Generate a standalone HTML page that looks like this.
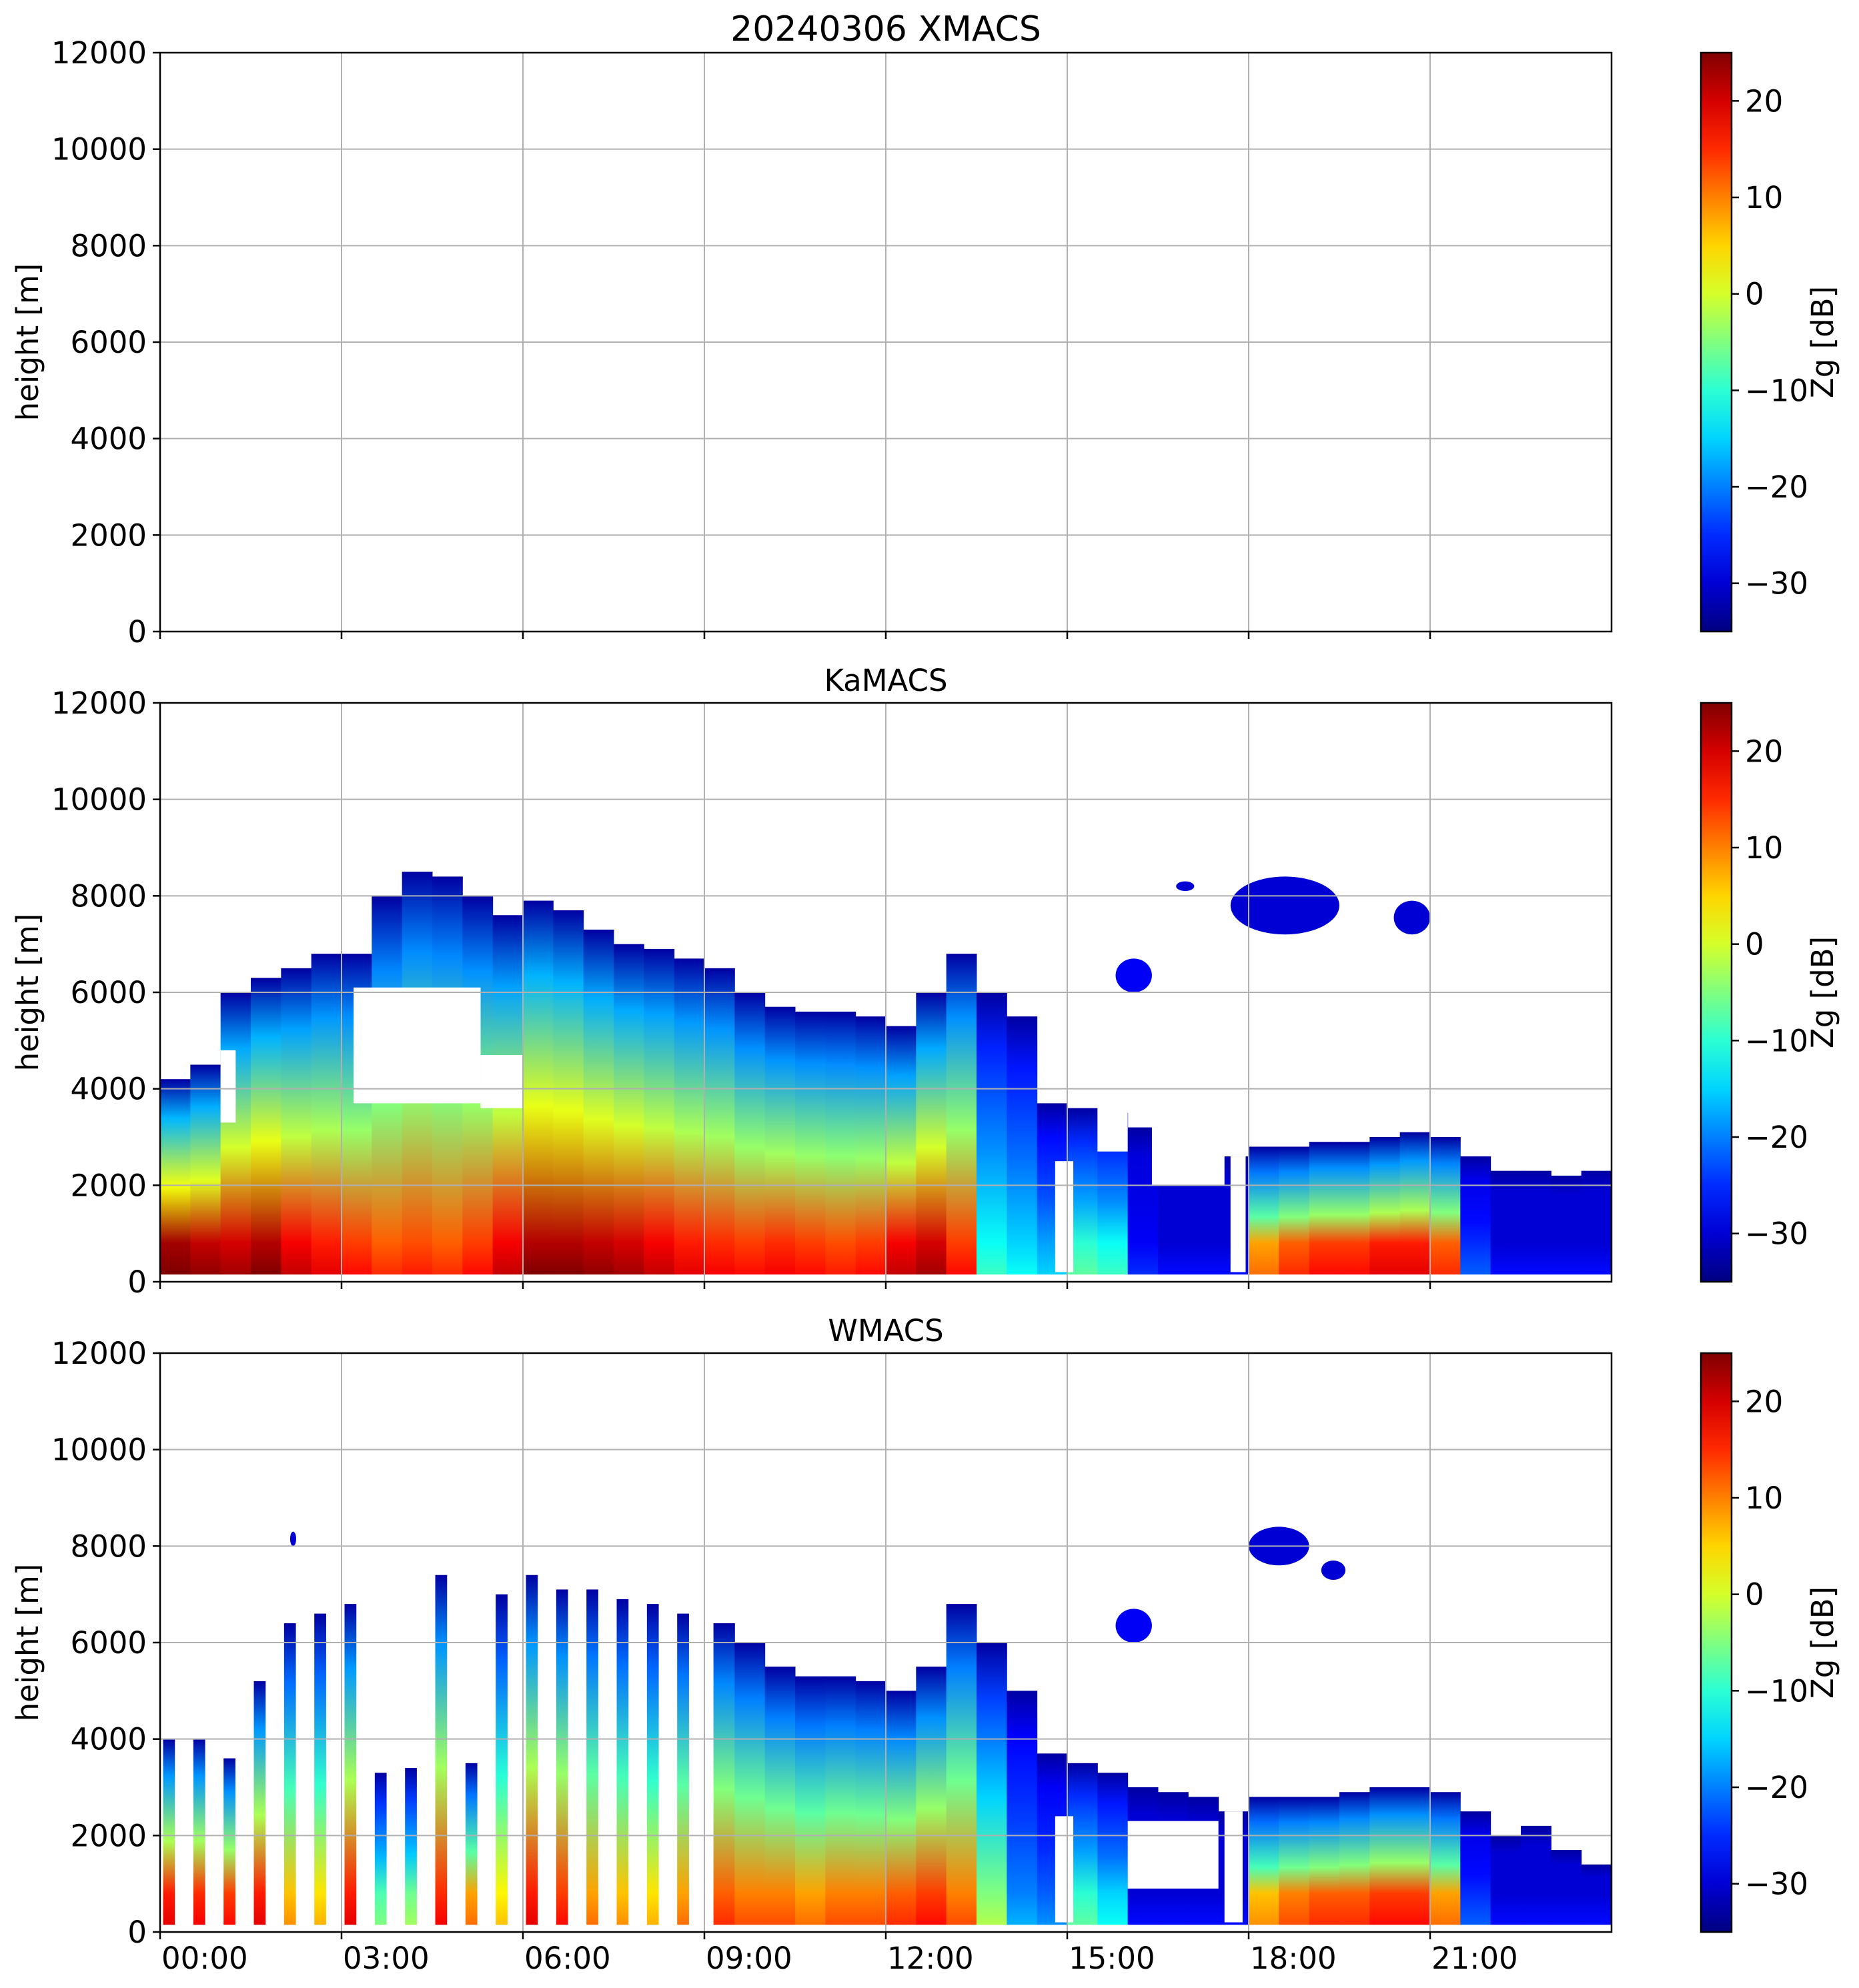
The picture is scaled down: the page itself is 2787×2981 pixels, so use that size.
<!DOCTYPE html>
<html><head><meta charset="utf-8"><title>20240306 radar reflectivity</title>
<style>html,body{margin:0;padding:0;background:#fff}svg{display:block}text{font-family:"DejaVu Sans","Liberation Sans",sans-serif;fill:#000}</style>
</head><body>
<svg id="fig" xmlns="http://www.w3.org/2000/svg" width="2787" height="2981" viewBox="0 0 2787 2981">
<defs id="defs"></defs>
</svg>
<script>
// ---- data ----
const panelTitles = ["20240306 XMACS", "KaMACS", "WMACS"];
const yTicks = [0, 2000, 4000, 6000, 8000, 10000, 12000];
const xTickHours = [0, 3, 6, 9, 12, 15, 18, 21];
const xTickLabels = ["00:00", "03:00", "06:00", "09:00", "12:00", "15:00", "18:00", "21:00"];
const cbarTicks = [-30, -20, -10, 0, 10, 20];

// KaMACS columns (start hour, cloud top m, near-surface dB)
const kaStart = [0,0.5,1,1.5,2,2.5,3,3.5,4,4.5,5,5.5,6,6.5,7,7.5,8,8.5,9,9.5,10,10.5,11,11.5,12,12.5,13,13.5,14,14.5,15,15.5,16,16.5,17,17.5,18,18.5,19,19.5,20,20.5,21,21.5,22,22.5,23,23.5];
const kaTop = [4200,4500,6000,6300,6500,6800,6800,8000,8500,8400,8000,7600,7900,7700,7300,7000,6900,6700,6500,6000,5700,5600,5600,5500,5300,6000,6800,6000,5500,3700,3600,3500,3200,3000,3000,2600,2800,2800,2900,2900,3000,3100,3000,2600,2300,2300,2200,2300];
const kaSfc = [23,21,20,22,18,16,14,12,13,12,14,18,22,22,21,20,18,16,15,14,15,14,13,14,18,20,14,-12,-15,-18,-10,-12,-28,-30,-30,-30,8,12,14,14,16,16,12,-25,-30,-30,-30,-30];
const kaHoles = [[1.0,1.25,3300,4800],[3.2,5.3,3700,6100],[5.3,6.0,3600,4700],[14.8,15.1,200,2500],[15.5,16.0,2700,3600],[16.4,17.6,2000,3200],[17.7,17.95,200,2600]];
const kaBlobs = [[15.8,16.4,6000,6700,-28],[17.7,19.5,7200,8400,-30],[20.4,21.0,7200,7900,-30],[16.8,17.1,8100,8300,-30]];

// WMACS: alternating-scan stripes then continuous columns
const wStripeStart = [0.05,0.55,1.05,1.55,2.05,2.55,3.05,3.55,4.05,4.55,5.05,5.55,6.05,6.55,7.05,7.55,8.05,8.55];
const wStripeTop = [4000,4000,3600,5200,6400,6600,6800,3300,3400,7400,3500,7000,7400,7100,7100,6900,6800,6600];
const wStripeSfc = [16,15,14,16,6,4,16,-8,-6,15,8,3,16,14,8,6,4,8];
const wStart = [9.0,9.5,10,10.5,11,11.5,12,12.5,13,13.5,14,14.5,15,15.5,16,16.5,17,17.5,18,18.5,19,19.5,20,20.5,21,21.5,22,22.5,23,23.5];
const wTop = [6400,6000,5500,5300,5300,5200,5000,5500,6800,6000,5000,3700,3500,3300,3000,2900,2800,2500,2800,2800,2800,2900,3000,3000,2900,2500,2000,2200,1700,1400];
const wSfc = [12,10,10,8,10,10,12,14,10,-5,-20,-22,-10,-15,-30,-30,-30,-30,6,10,12,12,14,14,8,-25,-30,-30,-30,-30];
const wHoles = [[14.8,15.1,200,2400],[16.0,17.5,900,2300],[17.6,17.9,200,2500]];
const wBlobs = [[15.8,16.4,6000,6700,-28],[18.0,19.0,7600,8400,-30],[19.2,19.6,7300,7700,-30],[2.15,2.25,8000,8300,-30]];

// ---- layout ----
const NS = "http://www.w3.org/2000/svg";
const svg = document.getElementById('fig');
const defs = document.getElementById('defs');
const L = 240, R = 2416, H = 868;
const tops = [79, 1054, 2029];
const CBX = 2550, CBW = 46;
const xOf = h => L + (R - L) * h / 24;
const yOf = (p, m) => tops[p] + H - H * m / 12000;
const cOf = (p, v) => tops[p] + H - H * (v + 35) / 60;

function jet(v){
  let t = Math.max(0, Math.min(1, (v + 35) / 60));
  const f = x => Math.round(255 * Math.max(0, Math.min(1, x)));
  const r = f(Math.min(4*t - 1.5, -4*t + 4.5));
  const g = f(Math.min(4*t - 0.5, -4*t + 3.5));
  const b = f(Math.min(4*t + 0.5, -4*t + 2.5));
  return `rgb(${r},${g},${b})`;
}
function el(tag, attrs, parent){
  const e = document.createElementNS(NS, tag);
  for (const k in attrs) e.setAttribute(k, attrs[k]);
  (parent || svg).appendChild(e);
  return e;
}
let gid = 0;
function column(p, g, t0, t1, top, sfc){
  const id = 'g' + (gid++);
  const lg = el('linearGradient', {id: id, x1: 0, y1: 1, x2: 0, y2: 0}, defs);
  const base = 150;
  const span = top - base;
  const fr = m => Math.max(0, Math.min(1, (m - base) / span));
  const stops = [[0, sfc + 3], [fr(800), sfc], [fr(base + span*0.45), sfc - (sfc + 30)*0.4], [fr(base + span*0.8), sfc - (sfc + 30)*0.75], [1, -33]];
  stops.forEach(s => el('stop', {offset: s[0], 'stop-color': jet(s[1])}, lg));
  const r = el('rect', {x: xOf(t0), y: yOf(p, top), width: xOf(t1) - xOf(t0) + 0.5, height: yOf(p, base) - yOf(p, top), fill: `url(#${id})`}, g);
  
  
}
function drawHole(p, g, hl){
  const r = el('rect', {x: xOf(hl[0]), y: yOf(p, hl[3]), width: xOf(hl[1]) - xOf(hl[0]), height: yOf(p, hl[2]) - yOf(p, hl[3]), fill: '#fff'}, g);
  
  
}
function drawBlob(p, g, b){
  const r = el('ellipse', {cx: (xOf(b[0]) + xOf(b[1]))/2, cy: (yOf(p, b[2]) + yOf(p, b[3]))/2, rx: (xOf(b[1]) - xOf(b[0]))/2, ry: (yOf(p, b[2]) - yOf(p, b[3]))/2, fill: jet(b[4])}, g);
  
  
}

for (let p = 0; p < 3; p++){
  const g = el('g', {});
  
  
  const dg = el('g', {}, g);
  
  
  if (p === 1){
    kaStart.forEach((t, i) => column(p, dg, t, t + 0.5, kaTop[i], kaSfc[i]));
    kaHoles.forEach(hl => drawHole(p, dg, hl));
    kaBlobs.forEach(b => drawBlob(p, dg, b));
  } else if (p === 2){
    wStripeStart.forEach((t, i) => column(p, dg, t, t + 0.19, wStripeTop[i], wStripeSfc[i]));
    wStart.forEach((t, i) => column(p, dg, i === 0 ? 9.15 : t, t + 0.5, wTop[i], wSfc[i]));
    wHoles.forEach(hl => drawHole(p, dg, hl));
    wBlobs.forEach(b => drawBlob(p, dg, b));
  }
  // grid
  yTicks.forEach(v => {
    const y = yOf(p, v);
    const ln = el('line', {x1: L, x2: R, y1: y, y2: y, stroke: '#b0b0b0', 'stroke-width': 2}, g);
    
    
    const tk = el('line', {x1: L - 11, x2: L, y1: y, y2: y, stroke: '#000', 'stroke-width': 2.5}, g);
    
    
    const tx = el('text', {x: L - 20, y: y + 16, 'font-size': 45, 'text-anchor': 'end'}, g);
    tx.textContent = v;
    
    
  });
  xTickHours.forEach((h, i) => {
    const x = xOf(h);
    const ln = el('line', {x1: x, x2: x, y1: tops[p], y2: tops[p] + H, stroke: '#b0b0b0', 'stroke-width': 2}, g);
    
    
    const tk = el('line', {x1: x, x2: x, y1: tops[p] + H, y2: tops[p] + H + 11, stroke: '#000', 'stroke-width': 2.5}, g);
    
    
    if (p === 2){
      const tx = el('text', {x: x + 2, y: 2952, 'font-size': 45}, g);
      tx.textContent = xTickLabels[i];
      
      
    }
  });
  const frame = el('rect', {x: L, y: tops[p], width: R - L, height: H, fill: 'none', stroke: '#000', 'stroke-width': 2.5}, g);
  
  
  const title = el('text', {x: (L + R)/2, y: tops[p] - 18, 'font-size': p === 0 ? 52 : 45, 'text-anchor': 'middle'}, g);
  title.textContent = panelTitles[p];
  
  
  const yl = el('text', {x: 0, y: 0, 'font-size': 45, 'text-anchor': 'middle', transform: `translate(57,${tops[p] + H/2}) rotate(-90)`}, g);
  yl.textContent = 'height [m]';
  
  
  // colorbar
  const cg = el('g', {}, g);
  
  
  const cid = 'cb' + p;
  const lg = el('linearGradient', {id: cid, x1: 0, y1: 1, x2: 0, y2: 0}, defs);
  for (let k = 0; k <= 12; k++){ el('stop', {offset: k/12, 'stop-color': jet(-35 + 5*k)}, lg); }
  el('rect', {x: CBX, y: tops[p], width: CBW, height: H, fill: `url(#${cid})`, stroke: '#000', 'stroke-width': 2.5}, cg);
  cbarTicks.forEach(v => {
    const y = cOf(p, v);
    const tk = el('line', {x1: CBX + CBW, x2: CBX + CBW + 11, y1: y, y2: y, stroke: '#000', 'stroke-width': 2.5}, cg);
    
    
    const tx = el('text', {x: CBX + CBW + 20, y: y + 16, 'font-size': 45}, cg);
    tx.textContent = v < 0 ? '\u2212' + (-v) : String(v);
    
    
  });
  const cl = el('text', {x: 0, y: 0, 'font-size': 45, 'text-anchor': 'middle', transform: `translate(2748,${tops[p] + H/2}) rotate(-90)`}, cg);
  cl.textContent = 'Zg [dB]';
  
  
}
</script>
</body></html>
